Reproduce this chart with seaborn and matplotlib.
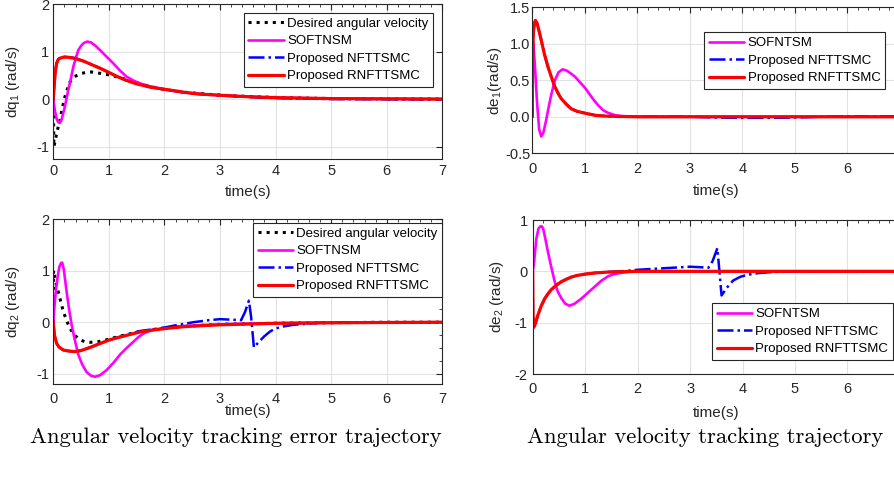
import matplotlib
matplotlib.use("Agg")
import matplotlib.pyplot as plt
import seaborn as sns
from matplotlib.ticker import MultipleLocator

# ---------------- data ----------------
# Top-left: dq1 tracking error
t_dq1_des = [0, 0.01, 0.03, 0.06, 0.09, 0.12, 0.16, 0.21, 0.25, 0.3, 0.38, 0.48, 0.58, 0.68, 0.8, 1.0,
             1.2, 1.4, 1.6, 1.8, 2.0, 2.4, 2.8, 3.2, 3.6, 4.0, 4.5, 5.0, 6.0, 7.0]
y_dq1_des = [0, -1.0, -0.9, -0.72, -0.58, -0.44, -0.2, 0.05, 0.2, 0.36, 0.47, 0.53, 0.56, 0.57, 0.55, 0.51,
             0.45, 0.38, 0.31, 0.25, 0.2, 0.14, 0.1, 0.07, 0.05, 0.035, 0.02, 0.012, 0.005, 0]
t_dq1_sof = [0, 0.03, 0.06, 0.09, 0.12, 0.15, 0.2, 0.27, 0.32, 0.36, 0.41, 0.45, 0.5, 0.55, 0.61, 0.68,
             0.76, 0.84, 0.96, 1.08, 1.2, 1.32, 1.44, 1.56, 1.7, 1.85, 2.0, 2.3, 2.6, 3.0, 3.5, 4.0, 5.0, 6.0, 7.0]
y_dq1_sof = [0, -0.25, -0.42, -0.49, -0.5, -0.43, -0.2, 0.19, 0.45, 0.68, 0.88, 1.03, 1.12, 1.18, 1.21, 1.19,
             1.12, 1.03, 0.89, 0.75, 0.6, 0.47, 0.39, 0.33, 0.28, 0.24, 0.2, 0.15, 0.11, 0.08, 0.05, 0.03, 0.01, 0.005, 0]
t_dq1_nft = [0, 0.02, 0.04, 0.06, 0.09, 0.12, 0.18, 0.27, 0.4, 0.54, 0.7, 0.84, 1.0, 1.14, 1.3, 1.5, 1.75,
             2.04, 2.3, 2.58, 3.0, 3.5, 4.0, 4.5, 5.0, 6.0, 7.0]
y_dq1_nft = [0, 0.36, 0.61, 0.76, 0.84, 0.87, 0.89, 0.89, 0.86, 0.8, 0.72, 0.65, 0.56, 0.48, 0.4, 0.32, 0.25,
             0.2, 0.15, 0.11, 0.075, 0.045, 0.02, 0.01, 0.0, -0.005, -0.005]
t_dq1_rnf = [0, 0.02, 0.04, 0.06, 0.09, 0.12, 0.18, 0.27, 0.4, 0.54, 0.7, 0.84, 1.0, 1.14, 1.3, 1.5, 1.75,
             2.04, 2.3, 2.58, 3.0, 3.5, 4.0, 4.5, 5.0, 6.0, 7.0]
y_dq1_rnf = [0, 0.35, 0.6, 0.75, 0.83, 0.86, 0.88, 0.88, 0.85, 0.8, 0.72, 0.65, 0.56, 0.48, 0.4, 0.32, 0.25,
             0.2, 0.15, 0.11, 0.08, 0.05, 0.03, 0.02, 0.01, 0.005, 0]

# Bottom-left: dq2 tracking error
t_dq2_des = [0, 0.005, 0.03, 0.06, 0.09, 0.13, 0.18, 0.24, 0.3, 0.38, 0.48, 0.57, 0.66, 0.8, 0.96, 1.2,
             1.56, 2.0, 2.5, 3.0, 4.0, 5.0, 6.0, 7.0]
y_dq2_des = [0, 1.01, 0.85, 0.7, 0.59, 0.42, 0.21, 0.03, -0.12, -0.25, -0.34, -0.38, -0.39, -0.38, -0.34,
             -0.27, -0.18, -0.11, -0.07, -0.04, -0.02, -0.01, 0, 0]
t_dq2_sof = [0, 0.02, 0.05, 0.08, 0.11, 0.14, 0.16, 0.19, 0.24, 0.28, 0.33, 0.39, 0.45, 0.52, 0.6, 0.68,
             0.75, 0.84, 0.96, 1.08, 1.2, 1.32, 1.44, 1.53, 1.62, 1.75, 1.9, 2.1, 2.4, 2.8, 3.2, 4.0, 5.0, 6.0, 7.0]
y_dq2_sof = [0, 0.3, 0.65, 0.9, 1.08, 1.15, 1.16, 1.02, 0.59, 0.28, -0.05, -0.36, -0.63, -0.82, -0.97, -1.04,
             -1.06, -1.03, -0.93, -0.79, -0.63, -0.5, -0.38, -0.29, -0.22, -0.16, -0.13, -0.1, -0.07, -0.05,
             -0.035, -0.02, -0.01, -0.005, 0]
t_dq2_nft = [0, 0.02, 0.06, 0.1, 0.18, 0.28, 0.39, 0.5, 0.66, 0.85, 1.02, 1.3, 1.56, 1.92, 2.2, 2.52, 2.8,
             3.0, 3.2, 3.38, 3.45, 3.52, 3.56, 3.61, 3.7, 3.8, 3.9, 4.0, 4.15, 4.32, 4.55, 4.8, 5.2, 6.0, 7.0]
y_dq2_nft = [0, -0.25, -0.41, -0.48, -0.54, -0.56, -0.57, -0.55, -0.49, -0.41, -0.34, -0.25, -0.17, -0.12,
             -0.06, 0.0, 0.04, 0.06, 0.05, 0.04, 0.2, 0.42, 0.1, -0.49, -0.38, -0.27, -0.18, -0.12, -0.08,
             -0.05, -0.03, -0.01, 0, 0, 0]
t_dq2_rnf = [0, 0.02, 0.06, 0.1, 0.18, 0.28, 0.39, 0.5, 0.66, 0.85, 1.02, 1.3, 1.56, 1.8, 2.04, 2.3, 2.61,
             3.0, 3.5, 4.0, 5.0, 6.0, 7.0]
y_dq2_rnf = [0, -0.25, -0.41, -0.48, -0.54, -0.56, -0.57, -0.55, -0.49, -0.41, -0.34, -0.26, -0.19, -0.15,
             -0.12, -0.09, -0.07, -0.05, -0.035, -0.02, -0.01, -0.005, 0]

# Top-right: de1
t_de1_sof = [0, 0.005, 0.02, 0.05, 0.09, 0.13, 0.17, 0.21, 0.26, 0.3, 0.36, 0.43, 0.5, 0.58, 0.66, 0.74,
             0.81, 0.9, 1.0, 1.06, 1.15, 1.25, 1.35, 1.44, 1.56, 1.69, 1.85, 2.0, 3.0, 4.0, 5.0, 6.0, 7.0]
y_de1_sof = [0, 0.6, 1.0, 0.7, 0.2, -0.17, -0.27, -0.22, -0.06, 0.09, 0.3, 0.5, 0.61, 0.65, 0.63, 0.59,
             0.55, 0.48, 0.4, 0.34, 0.25, 0.16, 0.09, 0.055, 0.025, 0.01, 0.005, 0, 0, 0, 0, 0, 0]
t_de1_nft = [0, 0.005, 0.02, 0.04, 0.06, 0.09, 0.12, 0.17, 0.23, 0.3, 0.37, 0.43, 0.5, 0.55, 0.65, 0.74,
             0.85, 1.0, 1.2, 1.38, 1.6, 2.0, 3.0, 3.5, 4.0, 4.5, 5.0, 5.5, 6.0, 7.0]
y_de1_nft = [0, 0.7, 1.15, 1.28, 1.32, 1.28, 1.2, 1.05, 0.86, 0.68, 0.53, 0.41, 0.31, 0.25, 0.17, 0.11,
             0.075, 0.05, 0.02, 0.01, 0.005, 0, 0, -0.01, -0.015, -0.015, -0.01, 0, 0.005, 0.005]
t_de1_rnf = [0, 0.005, 0.02, 0.04, 0.06, 0.09, 0.12, 0.17, 0.23, 0.3, 0.37, 0.43, 0.5, 0.55, 0.65, 0.74,
             0.85, 1.0, 1.2, 1.38, 1.6, 2.0, 3.0, 4.0, 5.0, 6.0, 7.0]
y_de1_rnf = [0, 0.7, 1.15, 1.28, 1.32, 1.28, 1.2, 1.05, 0.86, 0.68, 0.53, 0.41, 0.31, 0.25, 0.17, 0.11,
             0.075, 0.05, 0.02, 0.01, 0.005, 0, 0, 0, 0, 0, 0]

# Bottom-right: de2
t_de2_sof = [0, 0.02, 0.04, 0.07, 0.11, 0.14, 0.17, 0.2, 0.24, 0.29, 0.35, 0.42, 0.48, 0.55, 0.62, 0.7,
             0.8, 0.93, 1.05, 1.18, 1.3, 1.43, 1.53, 1.62, 1.81, 2.0, 3.0, 7.0]
y_de2_sof = [0, 0.12, 0.33, 0.64, 0.83, 0.87, 0.88, 0.83, 0.64, 0.38, 0.1, -0.2, -0.4, -0.53, -0.63, -0.67,
             -0.63, -0.53, -0.42, -0.3, -0.19, -0.1, -0.06, -0.04, -0.012, 0, 0, 0]
t_de2_nft = [0, 0.005, 0.02, 0.05, 0.1, 0.16, 0.23, 0.29, 0.35, 0.45, 0.55, 0.65, 0.74, 0.85, 0.99, 1.2,
             1.43, 1.7, 2.0, 2.5, 3.0, 3.2, 3.35, 3.43, 3.52, 3.56, 3.6, 3.7, 3.82, 3.95, 4.08, 4.3, 4.58,
             5.0, 6.0, 7.0]
y_de2_nft = [0, -0.8, -1.09, -1.02, -0.85, -0.68, -0.53, -0.44, -0.36, -0.27, -0.2, -0.15, -0.11, -0.08,
             -0.055, -0.03, -0.012, 0.0, 0.03, 0.06, 0.09, 0.08, 0.07, 0.2, 0.45, 0.0, -0.47, -0.32, -0.18,
             -0.11, -0.07, -0.035, -0.012, -0.003, 0, 0]
t_de2_rnf = [0, 0.005, 0.02, 0.05, 0.1, 0.16, 0.23, 0.29, 0.35, 0.45, 0.55, 0.65, 0.74, 0.85, 0.99, 1.2,
             1.43, 1.7, 2.0, 3.0, 4.0, 5.0, 6.0, 7.0]
y_de2_rnf = [0, -0.8, -1.09, -1.02, -0.85, -0.68, -0.53, -0.44, -0.36, -0.27, -0.2, -0.15, -0.11, -0.08,
             -0.055, -0.03, -0.015, -0.007, 0, 0, 0, 0, 0, 0]

labels_left = ["Desired angular velocity", "SOFTNSM", "Proposed NFTTSMC", "Proposed RNFTTSMC"]
labels_right = ["SOFNTSM", "Proposed NFTTSMC", "Proposed RNFTTSMC"]
x_ticks = [0, 1, 2, 3, 4, 5, 6, 7]
x_ticklabels_left = ["0", "1", "2", "3", "4", "5", "6", "7"]
x_ticklabels_right = ["0", "1", "2", "3", "4", "5", "6", ""]   # "7" falls outside the image
captions = ["Angular velocity tracking error trajectory", "Angular velocity tracking trajectory"]

# ---------------- style ----------------
sns.set_theme(style="whitegrid")
plt.rcParams["font.family"] = ["Liberation Sans", "DejaVu Sans"]
plt.rcParams["axes.unicode_minus"] = False
plt.rcParams["mathtext.fontset"] = "custom"
plt.rcParams["mathtext.rm"] = "Liberation Sans"
plt.rcParams["mathtext.it"] = "Liberation Sans:italic"
plt.rcParams["mathtext.default"] = "regular"

DARK = "#262626"
STY = {
    "des": dict(color="black", linestyle=":", linewidth=2.2),
    "sof": dict(color="#ff00ff", linestyle="-", linewidth=1.9),
    "nft": dict(color="#0000ff", linestyle="-.", linewidth=1.8),
    "rnf": dict(color="#ff0000", linestyle="-", linewidth=2.3),
}

W, H = 894, 478
fig = plt.figure(figsize=(W / 100, H / 100), dpi=100)


def px_axes(l, r, t, b):
    return fig.add_axes([l / W, 1 - b / H, (r - l) / W, (b - t) / H])


def style_axes(ax, ylim, ystep, ylabel, xpad, ypad, ylab_x, xlab_y, xticklabels, yminor=None):
    ax.set_facecolor("white")
    ax.set_xlim(0, 7)
    ax.set_ylim(*ylim)
    ax.set_xticks(x_ticks)
    ax.set_xticklabels(xticklabels)
    ax.xaxis.set_minor_locator(MultipleLocator(0.2))
    ax.yaxis.set_major_locator(MultipleLocator(ystep))
    if yminor:
        ax.yaxis.set_minor_locator(MultipleLocator(yminor))
    ax.set_axisbelow(True)
    ax.grid(True, which="major", color="#e2e2e2", linewidth=0.8)
    ax.grid(False, which="minor")
    for s in ax.spines.values():
        s.set_visible(True)
        s.set_color(DARK)
        s.set_linewidth(0.8)
    ax.tick_params(which="both", direction="in", top=True, right=True, colors=DARK,
                   labelsize=10.5, labelcolor=DARK)
    ax.tick_params(which="major", length=4, width=0.8)
    ax.tick_params(which="minor", length=2, width=0.6)
    ax.tick_params(axis="x", which="major", pad=xpad)
    ax.tick_params(axis="y", which="major", pad=ypad)
    ax.set_xlabel("time(s)", fontsize=11, color=DARK, va="center")
    ax.set_ylabel(ylabel, fontsize=11, color=DARK, va="center")
    ax.xaxis.set_label_coords(0.5, xlab_y)
    ax.yaxis.set_label_coords(ylab_x, 0.5)


def draw(ax, series):
    for t, y, key, lab in series:
        sns.lineplot(x=t, y=y, ax=ax, label=lab, estimator=None, sort=False, **STY[key])


def legend(ax, loc, anchor):
    h, l = ax.get_legend_handles_labels()
    leg = ax.legend(h, l, loc=loc, bbox_to_anchor=anchor, fontsize=9.5, frameon=True,
                    fancybox=False, framealpha=1, edgecolor=DARK, facecolor="white",
                    borderpad=0.35, labelspacing=0.4, handlelength=2.7, handletextpad=0.25,
                    borderaxespad=0)
    leg.get_frame().set_linewidth(0.8)
    for txt in leg.get_texts():
        txt.set_color("black")


# Top-left
ax1 = px_axes(53.3, 442.3, 4, 158.5)
draw(ax1, [(t_dq1_des, y_dq1_des, "des", labels_left[0]),
           (t_dq1_sof, y_dq1_sof, "sof", labels_left[1]),
           (t_dq1_nft, y_dq1_nft, "nft", labels_left[2]),
           (t_dq1_rnf, y_dq1_rnf, "rnf", labels_left[3])])
style_axes(ax1, (-1.25, 2), 1, r"dq$_1$ (rad/s)", 4, 3, -0.104, -0.215, x_ticklabels_left)
legend(ax1, "upper right", (0.976, 0.942))

# Top-right
ax2 = px_axes(532.3, 899.8, 7.2, 153.3)
draw(ax2, [(t_de1_sof, y_de1_sof, "sof", labels_right[0]),
           (t_de1_nft, y_de1_nft, "nft", labels_right[1]),
           (t_de1_rnf, y_de1_rnf, "rnf", labels_right[2])])
style_axes(ax2, (-0.5, 1.5), 0.5, r"de$_1$(rad/s)", 6, 1.5, -0.101, -0.255, x_ticklabels_right)
legend(ax2, "upper right", (0.960, 0.828))

# Bottom-left
ax3 = px_axes(53.3, 442.3, 219.3, 384)
draw(ax3, [(t_dq2_des, y_dq2_des, "des", labels_left[0]),
           (t_dq2_sof, y_dq2_sof, "sof", labels_left[1]),
           (t_dq2_nft, y_dq2_nft, "nft", labels_left[2]),
           (t_dq2_rnf, y_dq2_rnf, "rnf", labels_left[3])])
style_axes(ax3, (-1.2, 2), 1, r"dq$_2$ (rad/s)", 6, 2.5, -0.104, -0.165, x_ticklabels_left, yminor=0.25)
legend(ax3, "upper right", (1.0, 0.979))

# Bottom-right
ax4 = px_axes(532.7, 899.9, 220, 374)
draw(ax4, [(t_de2_sof, y_de2_sof, "sof", labels_right[0]),
           (t_de2_nft, y_de2_nft, "nft", labels_right[1]),
           (t_de2_rnf, y_de2_rnf, "rnf", labels_right[2])])
style_axes(ax4, (-2, 1), 1, r"de$_2$ (rad/s)", 6, 3.5, -0.098, -0.25, x_ticklabels_right)
legend(ax4, "lower right", (0.981, 0.091))

# Captions
fig.text(236 / W, 1 - 437 / H, captions[0], ha="center", va="center", family="cmr10", fontsize=16.3,
         color="black")
fig.text(705 / W, 1 - 437 / H, captions[1], ha="center", va="center", family="cmr10", fontsize=16.3,
         color="black")

fig.savefig("out.png", dpi=100, facecolor="white")
